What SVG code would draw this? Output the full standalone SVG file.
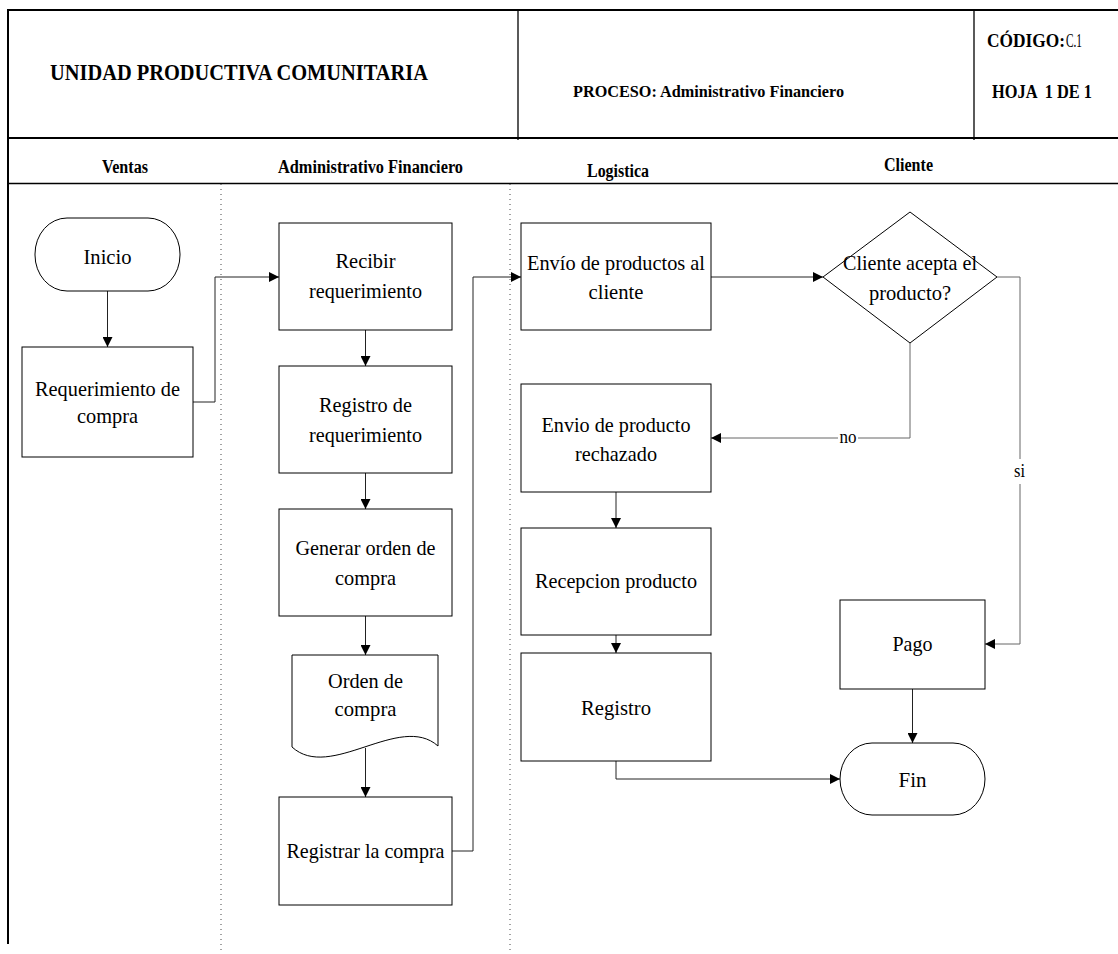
<svg xmlns="http://www.w3.org/2000/svg" width="1118" height="954" viewBox="0 0 1118 954" font-family="'Liberation Serif', 'Times New Roman', serif">
<style>
.frame{stroke:#000;stroke-width:2;fill:none}
.thin{stroke:#000;stroke-width:1.3;fill:none}
.lane{stroke:#444;stroke-width:1;stroke-dasharray:1 4;fill:none}
.box{fill:#fff;stroke:#000;stroke-width:1}
.con{fill:none;stroke:#222;stroke-width:1}
.gcon{fill:none;stroke:#666;stroke-width:1}
.hb{font-weight:bold}
.n{font-size:22px;text-anchor:middle}
.lbl{font-size:18px;text-anchor:middle}
</style>
<defs>
<marker id="arr" viewBox="0 0 10 10" refX="10" refY="5" markerWidth="10" markerHeight="10" markerUnits="userSpaceOnUse" orient="auto">
<path d="M0,0 L10,5 L0,10 z" fill="#000"/>
</marker>
</defs>
<rect width="1118" height="954" fill="#fff"/>

<g id="header" font-family="'Liberation Serif', 'Times New Roman', serif">
<line class="frame" x1="8" y1="10" x2="1118" y2="10"/>
<line class="frame" x1="8" y1="9" x2="8" y2="944"/>
<line class="frame" x1="8" y1="138" x2="1118" y2="138"/>
<line class="thin" x1="8" y1="183.5" x2="1118" y2="183.5"/>
<line class="thin" x1="518" y1="10" x2="518" y2="140"/>
<line class="thin" x1="974" y1="10" x2="974" y2="140"/>
<text class="hb" x="50" y="80" font-size="24" textLength="378" lengthAdjust="spacingAndGlyphs">UNIDAD PRODUCTIVA COMUNITARIA</text>
<text class="hb" x="573" y="97" font-size="17.5" textLength="271" lengthAdjust="spacingAndGlyphs">PROCESO: Administrativo Financiero</text>
<text class="hb" x="987" y="47" font-size="18" textLength="78" lengthAdjust="spacingAndGlyphs">CÓDIGO:</text>
<text x="1066" y="47" font-size="18" textLength="16" lengthAdjust="spacingAndGlyphs">C.1</text>
<text class="hb" x="992" y="98" font-size="18" textLength="100" lengthAdjust="spacingAndGlyphs" xml:space="preserve">HOJA  1 DE 1</text>
</g>

<g id="lanes" font-family="'Liberation Serif', 'Times New Roman', serif">
<text class="hb" x="102" y="173" font-size="18" textLength="46" lengthAdjust="spacingAndGlyphs">Ventas</text>
<text class="hb" x="278" y="173" font-size="18" textLength="185" lengthAdjust="spacingAndGlyphs">Administrativo Financiero</text>
<text class="hb" x="587" y="177" font-size="18" textLength="62" lengthAdjust="spacingAndGlyphs">Logistica</text>
<text class="hb" x="884" y="171" font-size="18" textLength="49" lengthAdjust="spacingAndGlyphs">Cliente</text>
<line class="lane" x1="221" y1="184" x2="221" y2="954"/>
<line class="lane" x1="510" y1="184" x2="510" y2="954"/>
</g>

<g id="connectors" font-family="'Liberation Serif', 'Times New Roman', serif">
<path class="con" d="M107.5,291 V347" marker-end="url(#arr)"/>
<path class="con" d="M193,402 H215 V277 H279" marker-end="url(#arr)"/>
<path class="con" d="M365.5,330 V366" marker-end="url(#arr)"/>
<path class="con" d="M365.5,473 V509" marker-end="url(#arr)"/>
<path class="con" d="M365.5,616 V655" marker-end="url(#arr)"/>
<path class="con" d="M365.5,748 V797" marker-end="url(#arr)"/>
<path class="con" d="M452,851 H473 V277 H521" marker-end="url(#arr)"/>
<path class="con" d="M711,277 H823" marker-end="url(#arr)"/>
<path class="gcon" d="M910,343 V438 H711" marker-end="url(#arr)"/>
<path class="gcon" d="M997,277 H1020 V644 H985" marker-end="url(#arr)"/>
<path class="con" d="M616,492 V528" marker-end="url(#arr)"/>
<path class="con" d="M616,635 V653" marker-end="url(#arr)"/>
<path class="con" d="M616,761 V779 H840" marker-end="url(#arr)"/>
<path class="con" d="M912.5,689 V743" marker-end="url(#arr)"/>
<rect x="838" y="429" width="20" height="17" fill="#fff"/>
<text class="lbl" x="848" y="443" textLength="17" lengthAdjust="spacingAndGlyphs">no</text>
<rect x="1011" y="459" width="17" height="25" fill="#fff"/>
<text class="lbl" x="1019.5" y="477" textLength="11" lengthAdjust="spacingAndGlyphs">si</text>
</g>

<g id="inicio">
<rect class="box" x="35" y="218" width="145" height="73" rx="32" ry="36"/>
<text class="n" x="107.5" y="264" textLength="48" lengthAdjust="spacingAndGlyphs">Inicio</text>
</g>
<g id="requerimiento">
<rect class="box" x="22" y="347" width="171" height="110"/>
<text class="n" x="107.5" y="396" textLength="145" lengthAdjust="spacingAndGlyphs">Requerimiento de</text>
<text class="n" x="107.5" y="423" textLength="61" lengthAdjust="spacingAndGlyphs">compra</text>
</g>
<g id="recibir">
<rect class="box" x="279" y="223" width="173" height="107"/>
<text class="n" x="365.5" y="268" textLength="60" lengthAdjust="spacingAndGlyphs">Recibir</text>
<text class="n" x="365.5" y="298" textLength="113" lengthAdjust="spacingAndGlyphs">requerimiento</text>
</g>
<g id="registro-req">
<rect class="box" x="279" y="366" width="173" height="107"/>
<text class="n" x="365.5" y="412" textLength="93" lengthAdjust="spacingAndGlyphs">Registro de</text>
<text class="n" x="365.5" y="442" textLength="113" lengthAdjust="spacingAndGlyphs">requerimiento</text>
</g>
<g id="generar">
<rect class="box" x="279" y="509" width="173" height="107"/>
<text class="n" x="365.5" y="555" textLength="140" lengthAdjust="spacingAndGlyphs">Generar orden de</text>
<text class="n" x="365.5" y="585" textLength="61" lengthAdjust="spacingAndGlyphs">compra</text>
</g>
<g id="orden">
<path class="box" d="M292,655 H438 V746 C400,712 330,782 292,747 Z"/>
<text class="n" x="365.5" y="688" textLength="75" lengthAdjust="spacingAndGlyphs">Orden de</text>
<text class="n" x="365.5" y="716" textLength="62" lengthAdjust="spacingAndGlyphs">compra</text>
</g>
<g id="registrar">
<rect class="box" x="279" y="797" width="173" height="108"/>
<text class="n" x="365.5" y="858" textLength="158" lengthAdjust="spacingAndGlyphs">Registrar la compra</text>
</g>
<g id="envio">
<rect class="box" x="521" y="223" width="190" height="107"/>
<text class="n" x="616" y="270" textLength="178" lengthAdjust="spacingAndGlyphs">Envío de productos al</text>
<text class="n" x="616" y="299" textLength="55" lengthAdjust="spacingAndGlyphs">cliente</text>
</g>
<g id="decision">
<path class="box" d="M910,212 L997,277 L910,343 L823,277 Z"/>
<text class="n" x="910" y="270" textLength="134" lengthAdjust="spacingAndGlyphs">Cliente acepta el</text>
<text class="n" x="910" y="300" textLength="82" lengthAdjust="spacingAndGlyphs">producto?</text>
</g>
<g id="rechazado">
<rect class="box" x="521" y="384" width="190" height="108"/>
<text class="n" x="616" y="432" textLength="149" lengthAdjust="spacingAndGlyphs">Envio de producto</text>
<text class="n" x="616" y="461" textLength="82" lengthAdjust="spacingAndGlyphs">rechazado</text>
</g>
<g id="recepcion">
<rect class="box" x="521" y="528" width="190" height="107"/>
<text class="n" x="616" y="588" textLength="162" lengthAdjust="spacingAndGlyphs">Recepcion producto</text>
</g>
<g id="registro">
<rect class="box" x="521" y="653" width="190" height="108"/>
<text class="n" x="616" y="715" textLength="70" lengthAdjust="spacingAndGlyphs">Registro</text>
</g>
<g id="pago">
<rect class="box" x="840" y="600" width="145" height="89"/>
<text class="n" x="912.5" y="651" textLength="40" lengthAdjust="spacingAndGlyphs">Pago</text>
</g>
<g id="fin">
<rect class="box" x="840" y="743" width="145" height="72" rx="32" ry="36"/>
<text class="n" x="912.5" y="787" textLength="28" lengthAdjust="spacingAndGlyphs">Fin</text>
</g>
</svg>
